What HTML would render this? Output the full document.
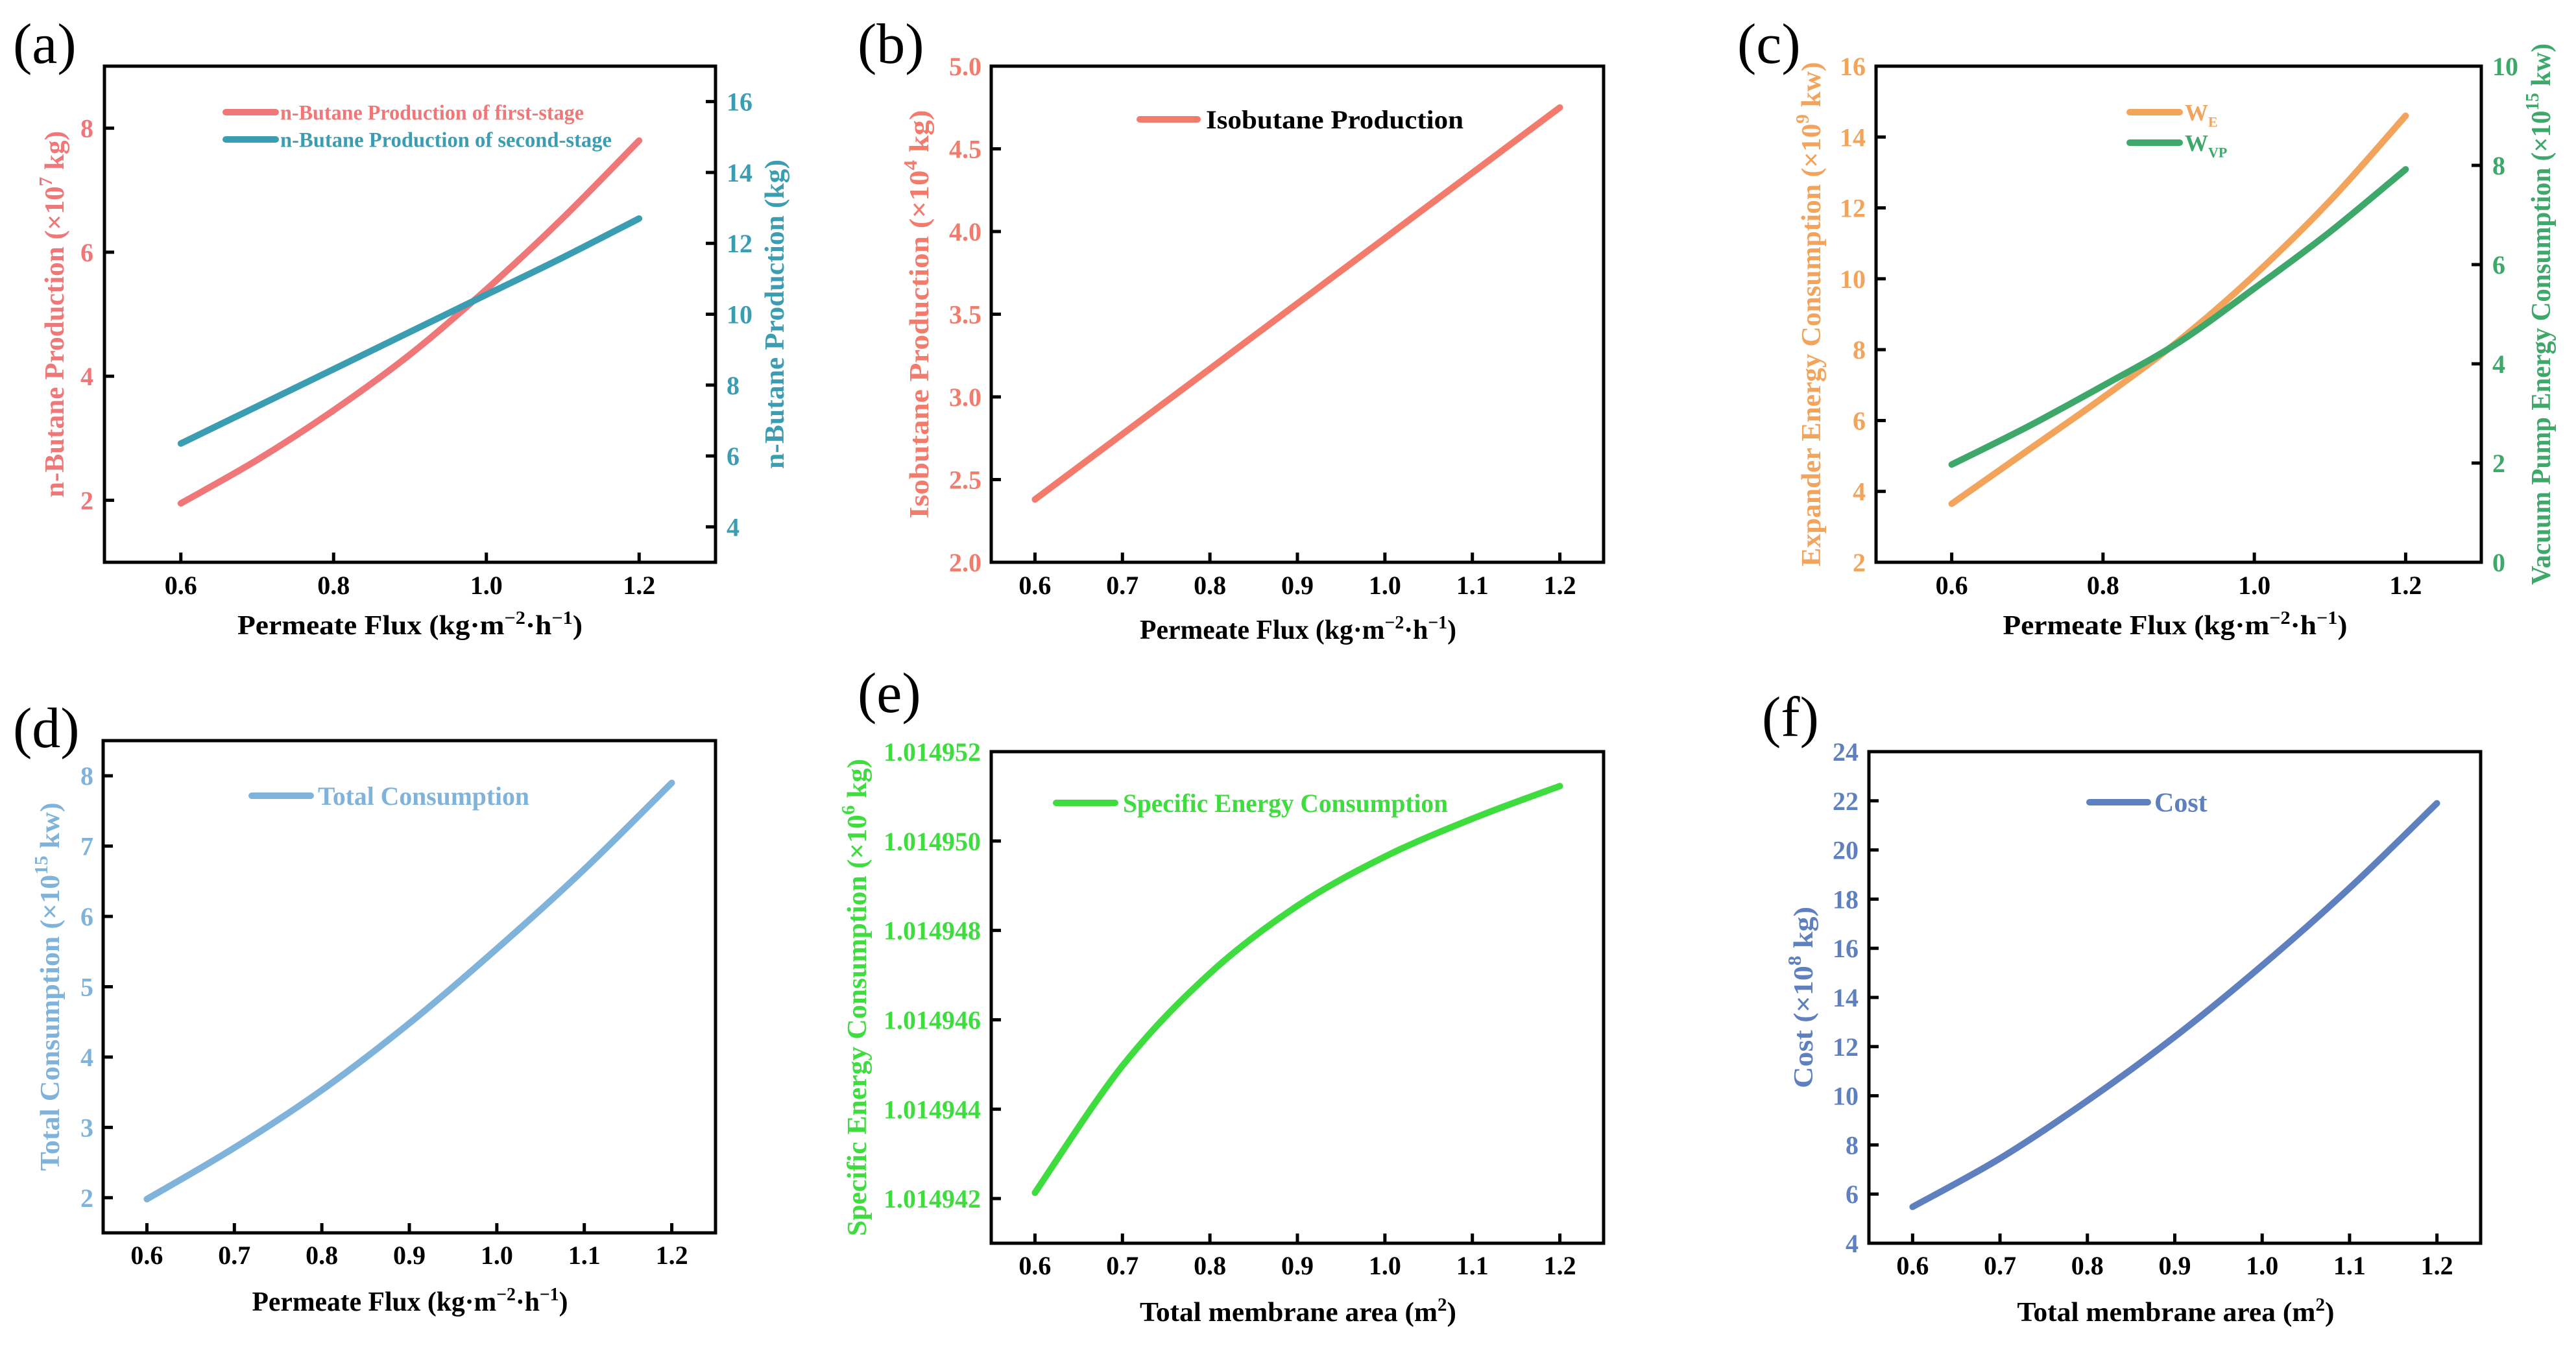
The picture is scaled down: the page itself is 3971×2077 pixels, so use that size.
<!DOCTYPE html>
<html><head><meta charset="utf-8">
<style>
html,body{margin:0;padding:0;background:#fff;}
svg{display:block;font-family:"Liberation Serif","Times New Roman",serif;}
</style></head>
<body>
<svg id="fig" width="3971" height="2077" viewBox="0 0 3971 2077" xmlns="http://www.w3.org/2000/svg"></svg>
<script>
// ---------- data ----------
const fluxX = [0.6,0.7,0.8,0.9,1.0,1.1,1.2];
const areaX = [0.6,0.7,0.8,0.9,1.0,1.1,1.2];
// (a)
const butaneFirst = [1.95,2.65,3.45,4.35,5.4,6.55,7.8];
const butaneSecond = [6.35,7.4,8.45,9.5,10.55,11.6,12.7];
const aXTicks = [0.6,0.8,1.0,1.2];
const aYLTicks = [2,4,6,8];
const aYRTicks = [4,6,8,10,12,14,16];
// (b)
const isobutane = [2.38,2.775,3.17,3.565,3.96,4.355,4.75];
const bXTicks = [0.6,0.7,0.8,0.9,1.0,1.1,1.2];
const bYTicks = [2.0,2.5,3.0,3.5,4.0,4.5,5.0];
// (c)
const expanderWE = [3.65,5.15,6.65,8.25,10.1,12.2,14.6];
const vacuumWVP = [1.97,2.73,3.56,4.43,5.52,6.66,7.92];
const cXTicks = [0.6,0.8,1.0,1.2];
const cYLTicks = [2,4,6,8,10,12,14,16];
const cYRTicks = [0,2,4,6,8,10];
// (d)
const totalConsumption = [1.98,2.71,3.53,4.48,5.54,6.67,7.9];
const dXTicks = [0.6,0.7,0.8,0.9,1.0,1.1,1.2];
const dYTicks = [2,3,4,5,6,7,8];
// (e)
const specificEnergy = [1.01494213,1.01494497,1.01494704,1.01494855,1.01494965,1.0149505,1.01495123];
const eXTicks = [0.6,0.7,0.8,0.9,1.0,1.1,1.2];
const eYTicks = [1.014942,1.014944,1.014946,1.014948,1.014950,1.014952];
// (f)
const cost = [5.48,7.45,9.8,12.4,15.3,18.45,21.9];
const fXTicks = [0.6,0.7,0.8,0.9,1.0,1.1,1.2];
const fYTicks = [4,6,8,10,12,14,16,18,20,22,24];

// ---------- helpers ----------
const NS = 'http://www.w3.org/2000/svg';
const svg = document.getElementById('fig');
function mk(tag, attrs, parent){
  const el = document.createElementNS(NS, tag);
  for (const k in attrs) el.setAttribute(k, attrs[k]);
  parent.appendChild(el);
  return el;
}
function scale(d0,d1,r0,r1){ return v => r0 + (v-d0)/(d1-d0)*(r1-r0); }
function smoothPath(pts){
  let d = 'M'+pts[0][0].toFixed(1)+','+pts[0][1].toFixed(1);
  for (let i=0;i<pts.length-1;i++){
    const p0 = pts[i-1]||pts[i], p1=pts[i], p2=pts[i+1], p3=pts[i+2]||pts[i+1];
    const c1x = p1[0]+(p2[0]-p0[0])/6, c1y = p1[1]+(p2[1]-p0[1])/6;
    const c2x = p2[0]-(p3[0]-p1[0])/6, c2y = p2[1]-(p3[1]-p1[1])/6;
    d += ' C'+c1x.toFixed(1)+','+c1y.toFixed(1)+' '+c2x.toFixed(1)+','+c2y.toFixed(1)+' '+p2[0].toFixed(1)+','+p2[1].toFixed(1);
  }
  return d;
}

function drawPanel(p){
  const g = mk('g', {}, svg);
  
  
  const sx = scale(p.xd[0], p.xd[1], p.L, p.R);
  const syL = scale(p.yLd[0], p.yLd[1], p.B, p.T);
  const syR = p.yRd ? scale(p.yRd[0], p.yRd[1], p.B, p.T) : null;

  const lab = mk('text', {x:p.labX, y:p.labY, 'font-size':88, fill:'#000'}, g);
  lab.textContent = p.label;
  
  

  p.series.forEach(s => {
    const sy = s.axis === 'R' ? syR : syL;
    const pts = s.x.map((xv,i) => [sx(xv), sy(s.y[i])]);
    const path = mk('path', {d:smoothPath(pts), fill:'none', stroke:s.color, 'stroke-width':10, 'stroke-linecap':'round', 'stroke-linejoin':'round'}, g);
    
    
  });

  const fr = mk('rect', {x:p.L, y:p.T, width:p.R-p.L, height:p.B-p.T, fill:'none', stroke:'#000', 'stroke-width':5}, g);
  
  

  p.xTicks.forEach(t => {
    const x = sx(t);
    const tk = mk('line', {x1:x, x2:x, y1:p.B, y2:p.B-15, stroke:'#000', 'stroke-width':5}, g);
    
    
    const tl = mk('text', {x:x, y:p.xLabY, 'font-size':40, 'font-weight':'bold', 'text-anchor':'middle', fill:'#000'}, g);
    tl.textContent = t.toFixed(1);
    
    
  });
  p.yLTicks.forEach(t => {
    const y = syL(t);
    const tk = mk('line', {x1:p.L, x2:p.L+15, y1:y, y2:y, stroke:'#000', 'stroke-width':5}, g);
    
    
    const tl = mk('text', {x:p.L-p.yLabGap, y:y+14, 'font-size':40, 'font-weight':'bold', 'text-anchor':'end', fill:p.yLColor}, g);
    tl.textContent = t.toFixed(p.yLDec);
    
    
  });
  if (p.yRTicks){
    p.yRTicks.forEach(t => {
      const y = syR(t);
      const tk = mk('line', {x1:p.R, x2:p.R-15, y1:y, y2:y, stroke:'#000', 'stroke-width':5}, g);
      
      
      const tl = mk('text', {x:p.R+17, y:y+14, 'font-size':40, 'font-weight':'bold', 'text-anchor':'start', fill:p.yRColor}, g);
      tl.textContent = String(t);
      
      
    });
  }
  const xt = mk('text', {x:p.xTitleX, y:p.xTitleY, 'font-size':42, 'font-weight':'bold', 'text-anchor':'middle', fill:'#000', textLength:p.xTitleLen, lengthAdjust:'spacingAndGlyphs'}, g);
  xt.innerHTML = p.xTitle;
  
  
  const ytY = (p.T+p.B)/2 + (p.yLTitleOff||0);
  const yt = mk('text', {x:0, y:0, transform:'translate('+p.yLTitleX+','+ytY+') rotate(-90)', 'font-size':42, 'font-weight':'bold', 'text-anchor':'middle', 'dominant-baseline':'central', fill:p.yLColor, textLength:p.yLTitleLen, lengthAdjust:'spacingAndGlyphs'}, g);
  yt.innerHTML = p.yLTitle;
  
  
  if (p.yRTitle){
    const rt = mk('text', {x:0, y:0, transform:'translate('+p.yRTitleX+','+((p.T+p.B)/2)+') rotate(-90)', 'font-size':42, 'font-weight':'bold', 'text-anchor':'middle', 'dominant-baseline':'central', fill:p.yRColor, textLength:p.yRTitleLen, lengthAdjust:'spacingAndGlyphs'}, g);
    rt.innerHTML = p.yRTitle;
    
    
  }
  p.legend.forEach(l => {
    const ll = mk('line', {x1:l.x1, x2:l.x2, y1:l.y, y2:l.y, stroke:l.color, 'stroke-width':10, 'stroke-linecap':'round'}, g);
    
    
    const attrs = {x:l.tx, y:l.y+l.fs*0.35, 'font-size':l.fs, 'font-weight':'bold', fill:l.tcolor};
    if (l.len){ attrs.textLength = l.len; attrs.lengthAdjust = 'spacingAndGlyphs'; }
    const lt = mk('text', attrs, g);
    lt.innerHTML = l.text;
    
    
  });
}

const SUP = (s) => '<tspan dy="-14" font-size="28">'+s+'</tspan><tspan dy="14"> </tspan>';
const fluxTitle = 'Permeate Flux (kg·m<tspan dy="-16" font-size="28">−2</tspan><tspan dy="16">·h</tspan><tspan dy="-16" font-size="28">−1</tspan><tspan dy="16">)</tspan>';
const areaTitle = 'Total membrane area (m<tspan dy="-16" font-size="28">2</tspan><tspan dy="16">)</tspan>';

const RED='#f07777', TEAL='#3b9db2', SALMON='#f27b6c', ORANGE='#f2a35c', GREEN='#3ea86a', LBLUE='#7fb3da', LIME='#3edc3e', SLATE='#5e80bf';

drawPanel({name:'panel-a', label:'(a)', labX:20, labY:97, L:161, R:1103, T:102, B:867,
  xd:[0.5,1.3], yLd:[1,9], yRd:[3,17], xTicks:aXTicks, yLTicks:aYLTicks, yRTicks:aYRTicks, yLDec:0,
  yLColor:RED, yRColor:TEAL, yLabGap:17, xLabY:916, xTitleX:632, xTitleY:978, xTitleLen:532, xTitle:fluxTitle,
  yLTitleX:85, yLTitleLen:565, yLTitle:'n-Butane Production (×10'+SUP('7')+'kg)',
  yRTitleX:1195, yRTitleLen:477, yRTitle:'n-Butane Production (kg)',
  series:[{name:'first-stage-line', x:fluxX, y:butaneFirst, color:RED, axis:'L'},
          {name:'second-stage-line', x:fluxX, y:butaneSecond, color:TEAL, axis:'R'}],
  legend:[{x1:348,x2:425,y:173,tx:432,fs:33,len:468,color:RED,tcolor:RED,text:'n-Butane Production of first-stage'},
          {x1:348,x2:425,y:215,tx:432,fs:33,len:511,color:TEAL,tcolor:TEAL,text:'n-Butane Production  of second-stage'}]});

drawPanel({name:'panel-b', label:'(b)', labX:1322, labY:97, L:1528, R:2472, T:102, B:867,
  xd:[0.55,1.25], yLd:[2,5], xTicks:bXTicks, yLTicks:bYTicks, yLDec:1,
  yLColor:SALMON, yLabGap:15, xLabY:916, xTitleX:2001, xTitleY:985, xTitleLen:488, xTitle:fluxTitle,
  yLTitleX:1418, yLTitleLen:630, yLTitle:'Isobutane Production (×10'+SUP('4')+'kg)',
  series:[{name:'isobutane-line', x:fluxX, y:isobutane, color:SALMON, axis:'L'}],
  legend:[{x1:1757,x2:1846,y:184,tx:1859,fs:40,len:397,color:SALMON,tcolor:'#000',text:'Isobutane Production'}]});

drawPanel({name:'panel-c', label:'(c)', labX:2678, labY:97, L:2892, R:3825, T:102, B:867,
  xd:[0.5,1.3], yLd:[2,16], yRd:[0,10], xTicks:cXTicks, yLTicks:cYLTicks, yRTicks:cYRTicks, yLDec:0,
  yLColor:ORANGE, yRColor:GREEN, yLabGap:16, xLabY:916, xTitleX:3353, xTitleY:978, xTitleLen:531, xTitle:fluxTitle,
  yLTitleX:2793, yLTitleLen:778, yLTitle:'Expander Energy Consumption (×10'+SUP('9')+'kw)',
  yRTitleX:3918, yRTitleLen:835, yRTitle:'Vacuum Pump Energy Consumption (×10'+SUP('15')+'kw)',
  series:[{name:'we-line', x:fluxX, y:expanderWE, color:ORANGE, axis:'L'},
          {name:'wvp-line', x:fluxX, y:vacuumWVP, color:GREEN, axis:'R'}],
  legend:[{x1:3283,x2:3360,y:173,tx:3368,fs:36,color:ORANGE,tcolor:ORANGE,text:'W<tspan dy="10" font-size="22">E</tspan>'},
          {x1:3283,x2:3360,y:220,tx:3368,fs:36,color:GREEN,tcolor:GREEN,text:'W<tspan dy="10" font-size="22">VP</tspan>'}]});

drawPanel({name:'panel-d', label:'(d)', labX:20, labY:1152, L:159, R:1103, T:1142, B:1901,
  xd:[0.55,1.25], yLd:[1.5,8.5], xTicks:dXTicks, yLTicks:dYTicks, yLDec:0,
  yLColor:LBLUE, yLabGap:15, xLabY:1949, xTitleX:632, xTitleY:2021, xTitleLen:487, xTitle:fluxTitle,
  yLTitleX:78, yLTitleLen:568, yLTitle:'Total Consumption (×10'+SUP('15')+'kw)',
  series:[{name:'total-consumption-line', x:fluxX, y:totalConsumption, color:LBLUE, axis:'L'}],
  legend:[{x1:388,x2:479,y:1227,tx:490,fs:40,len:326,color:LBLUE,tcolor:LBLUE,text:'Total Consumption'}]});

drawPanel({name:'panel-e', label:'(e)', labX:1322, labY:1098, L:1528, R:2472, T:1159, B:1917,
  xd:[0.55,1.25], yLd:[1.014941,1.014952], xTicks:eXTicks, yLTicks:eYTicks, yLDec:6,
  yLColor:LIME, yLabGap:16, xLabY:1965, xTitleX:2001, xTitleY:2037, xTitleLen:488, xTitle:areaTitle,
  yLTitleX:1322, yLTitleLen:736, yLTitle:'Specific Energy Consumption (×10'+SUP('6')+'kg)',
  series:[{name:'specific-energy-line', x:areaX, y:specificEnergy, color:LIME, axis:'L'}],
  legend:[{x1:1628,x2:1719,y:1238,tx:1731,fs:40,len:501,color:LIME,tcolor:LIME,text:'Specific Energy Consumption'}]});

drawPanel({name:'panel-f', label:'(f)', labX:2716, labY:1135, L:2881, R:3824, T:1159, B:1917,
  xd:[0.55,1.25], yLd:[4,24], xTicks:fXTicks, yLTicks:fYTicks, yLDec:0,
  yLColor:SLATE, yLabGap:16, xLabY:1965, xTitleX:3354, xTitleY:2037, xTitleLen:489, xTitle:areaTitle,
  yLTitleX:2781, yLTitleLen:280, yLTitle:'Cost (×10'+SUP('8')+'kg)',
  series:[{name:'cost-line', x:areaX, y:cost, color:SLATE, axis:'L'}],
  legend:[{x1:3221,x2:3311,y:1237,tx:3321,fs:42,color:SLATE,tcolor:SLATE,text:'Cost'}]});
</script>
</body></html>
